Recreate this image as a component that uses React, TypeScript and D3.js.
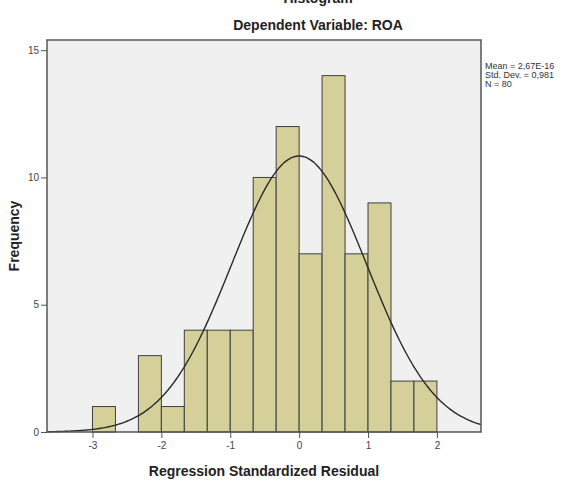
import { useEffect, useRef } from 'react';
import * as d3 from 'd3';

// histogram bins of regression standardized residuals (width 1/3)
const binStarts = [-3, -8 / 3, -7 / 3, -2, -5 / 3, -4 / 3, -1, -2 / 3, -1 / 3, 0, 1 / 3, 2 / 3, 1, 4 / 3, 5 / 3];
const binCounts = [1, 0, 3, 1, 4, 4, 4, 10, 12, 7, 14, 7, 9, 2, 2];
const binWidth = 1 / 3;
const xTicks = [-3, -2, -1, 0, 1, 2];
const yTicks = [0, 5, 10, 15];
const stats = ['Mean = 2,67E-16', 'Std. Dev. = 0,981', 'N = 80'];
const mean = 0;
const sd = 0.981;
const n = 80;

const W = 576;
const H = 484;
const margin = { top: 40, right: 95, bottom: 52, left: 47 };

const App = () => {
  const svgRef = useRef<SVGSVGElement | null>(null);

  useEffect(() => {
    const svg = d3.select(svgRef.current);
    svg.selectAll('*').remove();

    const innerW = W - margin.left - margin.right;
    const innerH = H - margin.top - margin.bottom;

    const x = d3.scaleLinear().domain([-3.66, 2.64]).range([0, innerW]);
    const y = d3.scaleLinear().domain([0, 15.4]).range([innerH, 0]);

    const g = svg.append('g').attr('transform', `translate(${margin.left},${margin.top})`);

    g.append('rect')
      .attr('width', innerW)
      .attr('height', innerH)
      .attr('fill', '#f0f0f0');

    // bars
    g.selectAll('.bar')
      .data(binStarts.map((s, i) => ({ s, c: binCounts[i] })).filter(d => d.c > 0))
      .enter()
      .append('rect')
      .attr('x', d => x(d.s))
      .attr('y', d => y(d.c))
      .attr('width', d => x(d.s + binWidth) - x(d.s))
      .attr('height', d => y(0) - y(d.c))
      .attr('fill', '#d5d09a')
      .attr('stroke', '#3f3f3f')
      .attr('stroke-width', 1);

    // normal curve
    const pts = d3.range(-3.66, 2.641, 0.02).map(v => {
      const z = (v - mean) / sd;
      return [v, (n * binWidth) / (sd * Math.sqrt(2 * Math.PI)) * Math.exp(-0.5 * z * z)];
    });
    g.append('path')
      .datum(pts)
      .attr('fill', 'none')
      .attr('stroke', '#2a2a2a')
      .attr('stroke-width', 1.4)
      .attr('d', d3.line<number[]>().x(d => x(d[0])).y(d => y(d[1])).curve(d3.curveBasis));

    // frame
    g.append('rect')
      .attr('width', innerW)
      .attr('height', innerH)
      .attr('fill', 'none')
      .attr('stroke', '#555')
      .attr('stroke-width', 1.5);

    // axes
    const xAxis = g.append('g')
      .attr('transform', `translate(0,${innerH})`)
      .call(d3.axisBottom(x).tickValues(xTicks).tickSize(6).tickPadding(4).tickFormat(d => String(d)));
    const yAxis = g.append('g')
      .call(d3.axisLeft(y).tickValues(yTicks).tickSize(6).tickPadding(2).tickFormat(d => String(d)));
    [xAxis, yAxis].forEach(a => {
      a.select('.domain').remove();
      a.selectAll('line').attr('stroke', '#555');
      a.selectAll('text')
        .attr('fill', '#444')
        .style('font-family', 'Liberation Sans, Arial, sans-serif')
        .style('font-size', '10px');
    });

    // titles
    svg.append('text')
      .attr('x', 318)
      .attr('y', 3)
      .attr('text-anchor', 'middle')
      .style('font-family', 'Liberation Sans, Arial, sans-serif')
      .style('font-size', '14px')
      .style('font-weight', 'bold')
      .attr('fill', '#222')
      .text('Histogram');
    svg.append('text')
      .attr('x', 318)
      .attr('y', 30)
      .attr('text-anchor', 'middle')
      .style('font-family', 'Liberation Sans, Arial, sans-serif')
      .style('font-size', '14px')
      .style('font-weight', 'bold')
      .attr('fill', '#222')
      .text('Dependent Variable: ROA');

    svg.append('text')
      .attr('x', 264)
      .attr('y', 476)
      .attr('text-anchor', 'middle')
      .style('font-family', 'Liberation Sans, Arial, sans-serif')
      .style('font-size', '14px')
      .style('font-weight', 'bold')
      .attr('fill', '#222')
      .text('Regression Standardized Residual');

    svg.append('text')
      .attr('transform', 'rotate(-90)')
      .attr('x', -236)
      .attr('y', 19)
      .attr('text-anchor', 'middle')
      .style('font-family', 'Liberation Sans, Arial, sans-serif')
      .style('font-size', '14px')
      .style('font-weight', 'bold')
      .attr('fill', '#222')
      .text('Frequency');

    // stats legend
    svg.append('g')
      .selectAll('text')
      .data(stats)
      .enter()
      .append('text')
      .attr('x', 485)
      .attr('y', (d, i) => 69 + i * 9)
      .style('font-family', 'Liberation Sans, Arial, sans-serif')
      .style('font-size', '9px')
      .attr('fill', '#333')
      .text(d => d);
  }, []);

  return (
    <svg
      ref={svgRef}
      width={W}
      height={H}
      style={{ position: 'absolute', left: 0, top: 0, background: '#fff' }}
    />
  );
};

export default App;
